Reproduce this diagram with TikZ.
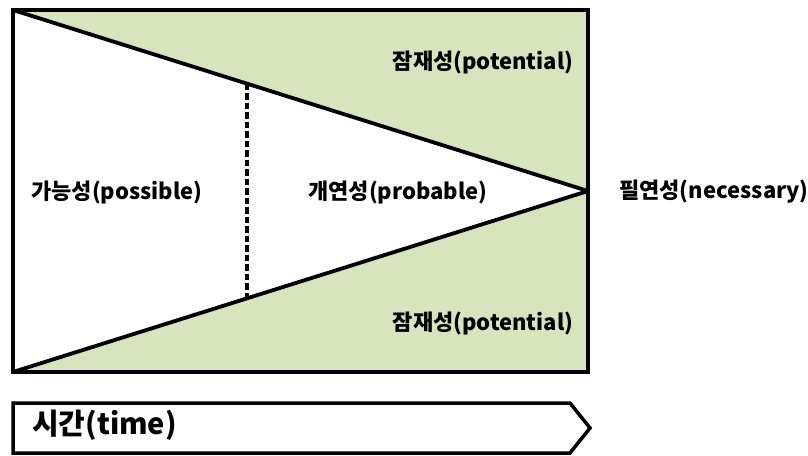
\documentclass[tikz,border=0pt]{standalone}
\usepackage{fontspec}
\setmainfont{Noto Sans CJK KR}
\definecolor{potgreen}{HTML}{D7E4BD}
\tikzset{
  frame/.style={line width=4pt, line join=miter},
  diag/.style={line width=3.8pt, line cap=round},
  divider/.style={line width=3.5pt, dash pattern=on 6.5pt off 3pt},
  lbl/.style={font=\fontsize{22}{26}\selectfont\bfseries, inner sep=0pt},
  timelbl/.style={font=\fontsize{29}{34}\selectfont\bfseries, inner sep=0pt, anchor=west},
}
\begin{document}
\begin{tikzpicture}[x=1pt,y=-1pt]
\useasboundingbox (0,0) rectangle (808,455);
% corners
\coordinate (tl) at (13,10);
\coordinate (tr) at (588,10);
\coordinate (br) at (588,372);
\coordinate (bl) at (13,372);
\coordinate (apex) at (588,191);
\coordinate (dtop) at (247,83.5);
\coordinate (dbot) at (247,297.5);
% green regions
\fill[potgreen] (tl) -- (tr) -- (apex) -- cycle;
\fill[potgreen] (bl) -- (br) -- (apex) -- cycle;
% diagonals
\draw[diag] (tl) -- (apex);
\draw[diag] (bl) -- (apex);
% divider
\draw[divider] (dtop) -- (dbot);
% frame
\draw[frame] (tl) rectangle (br);
% labels
\node[lbl] (pottop) at (483,62) {잠재성(potential)};
\node[lbl] (potbot) at (483,323) {잠재성(potential)};
\node[lbl] (possible) at (117,192) {가능성(possible)};
\node[lbl] (probable) at (398,192) {개연성(probable)};
\node[lbl] (necessary) at (714,192) {필연성(necessary)};
% time arrow
\coordinate (a1) at (13,403);
\coordinate (a2) at (570,403);
\coordinate (a3) at (590,428);
\coordinate (a4) at (570,453);
\coordinate (a5) at (13,453);
\draw[line width=3.5pt, line join=miter] (a1) -- (a2) -- (a3) -- (a4) -- (a5) -- cycle;
\node[timelbl] (time) at (32,425) {시간(time)};
\end{tikzpicture}
\end{document}
